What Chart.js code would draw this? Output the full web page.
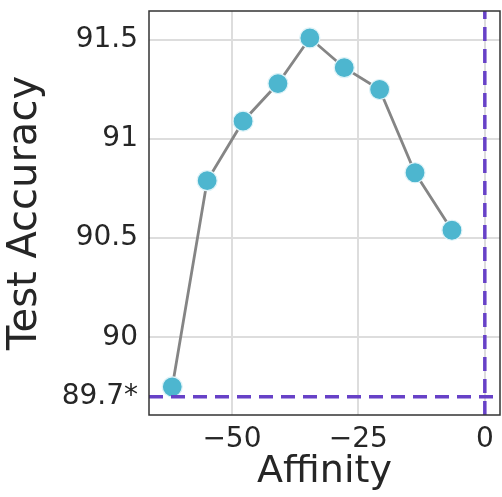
<!DOCTYPE html>
<html><head><meta charset="utf-8">
<script src="https://cdn.jsdelivr.net/npm/chart.js@4.4.0/dist/chart.umd.min.js"></script>
<style>html,body{margin:0;padding:0;background:#fff}#wrap{width:502px;height:497px}</style>
</head><body><div id="wrap"><canvas id="c" width="502" height="497"></canvas></div>
<script>
const affinity = [-61.8, -54.9, -47.8, -40.9, -34.6, -27.8, -20.8, -13.8, -6.5];
const accuracy = [89.75, 90.79, 91.09, 91.28, 91.51, 91.36, 91.25, 90.83, 90.54];
const baselineAccuracy = 89.7;
const referenceAffinity = 0;
const xTicks = [-50, -25, 0];
const yTicks = [89.7, 90, 90.5, 91, 91.5];
const yTickLabels = ["89.7*", "90", "90.5", "91", "91.5"];
const xMin = -66.4, xMax = 3.0, yMin = 89.608, yMax = 91.646;

const FONT = "'DejaVu Sans', sans-serif";
const TXT = "#262626";
const PURPLE = "#6741C7";

const frame = {
  id: 'frame',
  afterDatasetsDraw(chart) {
    const a = chart.chartArea, ctx = chart.ctx;
    ctx.save();
    ctx.strokeStyle = '#333';
    ctx.lineWidth = 1.5;
    ctx.strokeRect(a.left, a.top, a.right - a.left, a.bottom - a.top);
    ctx.restore();
  }
};

new Chart(document.getElementById('c'), {
  type: 'line',
  data: {
    datasets: [
      {
        data: [{x: xMin, y: baselineAccuracy}, {x: xMax, y: baselineAccuracy}],
        borderColor: PURPLE, borderWidth: 3.5, borderDash: [14, 8], pointRadius: 0, order: 0
      },
      {
        data: [{x: referenceAffinity, y: yMin}, {x: referenceAffinity, y: yMax}],
        borderColor: PURPLE, borderWidth: 3.5, borderDash: [14, 8], pointRadius: 0, order: 0
      },
      {
        data: affinity.map((x, i) => ({x, y: accuracy[i]})),
        borderColor: '#858585', borderWidth: 2.8,
        pointRadius: 10, pointBackgroundColor: '#4DB6CF',
        pointBorderColor: '#dff3f8', pointBorderWidth: 1.2, order: 1
      }
    ]
  },
  options: {
    animation: false, responsive: false,
    layout: {autoPadding: false, padding: {top: 11, right: 2, left: 0, bottom: 0}},
    plugins: {legend: {display: false}, tooltip: {enabled: false}},
    scales: {
      x: {
        type: 'linear', min: xMin, max: xMax,
        afterBuildTicks: s => { s.ticks = xTicks.map(v => ({value: v})); },
        afterFit: s => { s.height = 82; s.paddingLeft = 0; s.paddingRight = 0; },
        ticks: {
          callback: v => (v < 0 ? '\u2212' + Math.abs(v) : String(v)),
          font: {family: FONT, size: 28}, color: TXT, padding: 8, maxRotation: 0
        },
        grid: {color: '#dddddd', lineWidth: 2, drawTicks: false},
        border: {display: false},
        title: {display: true, text: 'Affinity', font: {family: FONT, size: 38}, color: TXT, padding: {top: 0, bottom: 2}}
      },
      y: {
        type: 'linear', min: yMin, max: yMax,
        afterBuildTicks: s => { s.ticks = yTicks.map(v => ({value: v})); },
        afterFit: s => { s.width = 149; s.paddingTop = 0; s.paddingBottom = 0; },
        ticks: {
          callback: v => { const i = yTicks.indexOf(v); return i >= 0 ? yTickLabels[i] : ''; },
          font: {family: FONT, size: 28}, color: TXT, padding: 11
        },
        grid: {
          color: c => (c.tick && c.tick.value === baselineAccuracy ? 'rgba(0,0,0,0)' : '#dddddd'),
          lineWidth: 2, drawTicks: false
        },
        border: {display: false},
        title: {display: true, text: 'Test Accuracy', font: {family: FONT, size: 40}, color: TXT, padding: {top: 2, bottom: 0}}
      }
    }
  },
  plugins: [frame]
});
</script>
</body></html>
